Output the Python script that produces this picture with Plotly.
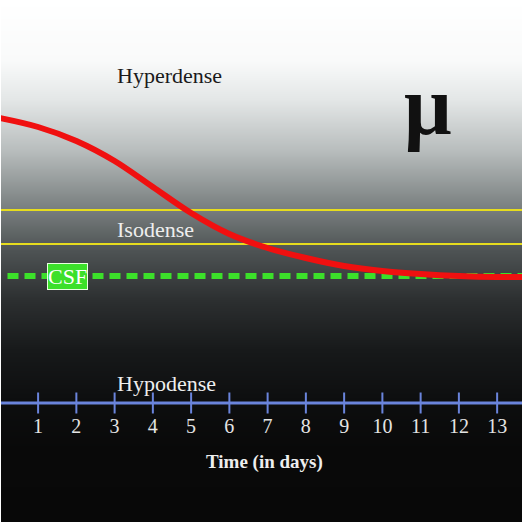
import plotly.graph_objects as go
import numpy as np

# ---- data ----
days = [1, 2, 3, 4, 5, 6, 7, 8, 9, 10, 11, 12, 13]
tick_labels = [str(d) for d in days]

# blood attenuation over time (relative units; axis baseline = 0)
curve_days = [0, 1, 2, 3, 4, 5, 6, 7, 8, 9, 10, 11, 12, 13, 13.7]
curve_vals = [285, 276, 262, 242, 216, 190, 169, 155, 145, 137, 132, 129, 127, 126, 126]

iso_upper = 193
iso_lower = 159
csf_level = 127
hypo_level = 0

# ---- layout constants ----
X_RANGE = [0.03, 13.65]
Y_RANGE = [-119, 403]
SERIF = "Liberation Serif, DejaVu Serif, serif"

# background gradient (value -> colour)
grad_stops = [(-119, "#080808"), (-47, "#090909"), (3, "#0d0e0f"), (53, "#17191a"),
              (103, "#2c2f30"), (153, "#4e5354"), (203, "#818787"), (253, "#b8bdbd"),
              (303, "#e3e6e6"), (343, "#f9fafa"), (403, "#ffffff")]
span = Y_RANGE[1] - Y_RANGE[0]
colorscale = [[(v - Y_RANGE[0]) / span, c] for v, c in grad_stops]
gy = np.arange(Y_RANGE[0] - 5, Y_RANGE[1] + 6, 2)
gz = [[v, v, v] for v in gy]

fig = go.Figure()
fig.add_trace(go.Heatmap(x=[-1, 7, 15], y=gy, z=gz, colorscale=colorscale,
                         zmin=Y_RANGE[0], zmax=Y_RANGE[1], showscale=False,
                         zsmooth="best", hoverinfo="skip"))

# isodense band lines
for lvl in [iso_upper, iso_lower]:
    fig.add_trace(go.Scatter(x=[-1, 15], y=[lvl, lvl], mode="lines",
                             line=dict(color="#e6dc1e", width=2), hoverinfo="skip"))

# CSF dashed line
fig.add_trace(go.Scatter(x=[0.2, 15], y=[csf_level, csf_level], mode="lines",
                         line=dict(color="#3ce02a", width=6, dash="11px,6px"), hoverinfo="skip"))

# red curve
fig.add_trace(go.Scatter(x=curve_days, y=curve_vals, mode="lines",
                         line=dict(color="#f01010", width=6, shape="spline", smoothing=1.0),
                         hoverinfo="skip"))

# time axis
fig.add_trace(go.Scatter(x=[-1, 15], y=[hypo_level, hypo_level], mode="lines",
                         line=dict(color="#6a84dc", width=3), hoverinfo="skip"))
fig.add_trace(go.Scatter(x=days, y=[hypo_level] * len(days), mode="markers",
                         marker=dict(symbol="line-ns", size=15,
                                     line=dict(color="#6a84dc", width=2)),
                         hoverinfo="skip"))
fig.add_trace(go.Scatter(x=days, y=[-25] * len(days), mode="text", text=tick_labels,
                         textfont=dict(family=SERIF, size=20, color="#e4e4e4"),
                         hoverinfo="skip"))

ann = [
    dict(x=3.0, y=328, text="Hyperdense", xanchor="left", yanchor="middle",
         font=dict(family=SERIF, size=22, color="#1a1a1a")),
    dict(x=3.0, y=174, text="Isodense", xanchor="left", yanchor="middle",
         font=dict(family=SERIF, size=22, color="#eeeeee")),
    dict(x=3.0, y=20, text="Hypodense", xanchor="left", yanchor="middle",
         font=dict(family=SERIF, size=22, color="#eeeeee")),
    dict(x=6.93, y=-59, text="<b>Time (in days)</b>", xanchor="center", yanchor="middle",
         font=dict(family=SERIF, size=19, color="#eeeeee")),
    dict(x=11.2, y=298, text="<b>μ</b>", xanchor="center", yanchor="middle",
         font=dict(family=SERIF, size=84, color="#111111")),
    dict(x=1.76, y=csf_level, text="CSF", xanchor="center", yanchor="middle",
         bgcolor="#3ce02a", bordercolor="#e8ffe0", borderwidth=1, borderpad=0,
         font=dict(family=SERIF, size=22, color="#ffffff")),
]
for a in ann:
    a.update(xref="x", yref="y", showarrow=False)

fig.update_layout(
    width=525, height=525,
    margin=dict(l=1, r=3, t=0, b=3),
    paper_bgcolor="#ffffff", plot_bgcolor="#080808",
    showlegend=False, annotations=ann,
    xaxis=dict(range=X_RANGE, visible=False, fixedrange=True),
    yaxis=dict(range=Y_RANGE, visible=False, fixedrange=True),
)

fig.write_html("out.html", config={"displayModeBar": False},
               post_script="document.body.style.margin='0';")
